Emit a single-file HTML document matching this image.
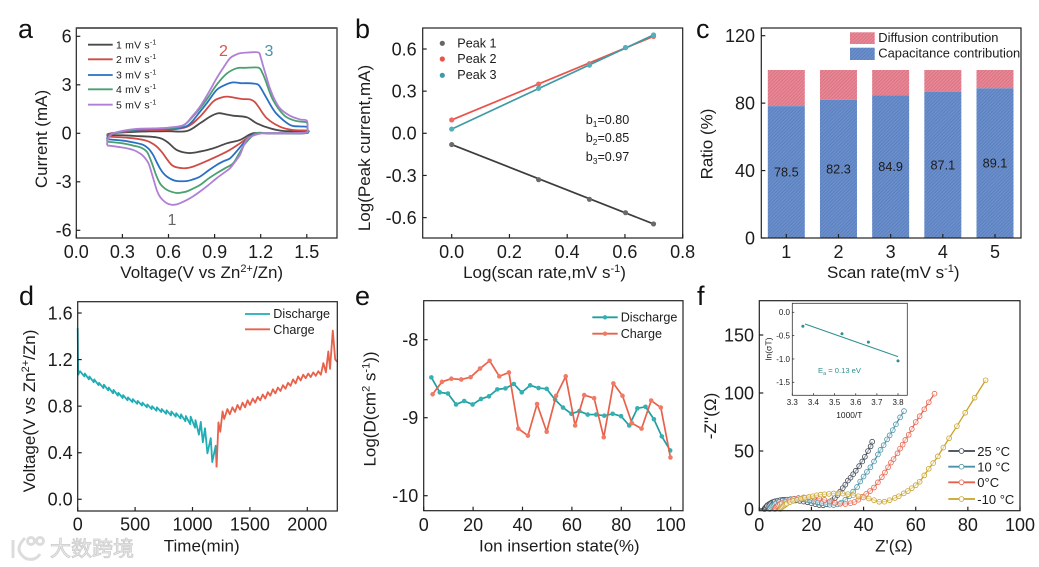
<!DOCTYPE html>
<html lang="en">
<head>
<meta charset="utf-8">
<title>Electrochemical characterization panels</title>
<style>
html,body{margin:0;padding:0;background:#fff;width:1039px;height:567px;overflow:hidden}
svg{display:block;filter:blur(.3px)}
text{font-family:"Liberation Sans","Noto Sans CJK SC",sans-serif;fill:#1c1c1c}
.tick{font-size:18px}
.title{font-size:17px}
.letter{font-size:27px;fill:#111}
.leg{font-size:12.6px}
</style>
</head>
<body>
<svg id="fig" xmlns="http://www.w3.org/2000/svg" width="1039" height="567" viewBox="0 0 1039 567">
<defs>
<pattern id="hatch-blue" patternUnits="userSpaceOnUse" width="2.4" height="2.4" patternTransform="rotate(45)"><rect width="2.4" height="2.4" fill="#6c90cd"/><rect width="1" height="2.4" fill="#5a7fbd"/></pattern>
<pattern id="hatch-pink" patternUnits="userSpaceOnUse" width="2.4" height="2.4" patternTransform="rotate(45)"><rect width="2.4" height="2.4" fill="#ea8898"/><rect width="1" height="2.4" fill="#d87482"/></pattern>
</defs>

<!-- Panel letters -->
<text class="letter" x="18" y="38">a</text>
<text class="letter" x="355" y="38">b</text>
<text class="letter" x="696" y="38">c</text>
<text class="letter" x="19" y="305">d</text>
<text class="letter" x="355" y="305">e</text>
<text class="letter" x="697" y="305">f</text>

<!-- Axis titles -->
<text class="title" x="201.7" y="278" text-anchor="middle">Voltage(V vs Zn<tspan dy="-6" font-size="11">2+</tspan><tspan dy="6">/Zn)</tspan></text>
<text class="title" x="47" y="139" text-anchor="middle" transform="rotate(-90 47 139)">Current (mA)</text>
<text class="title" x="544.5" y="278" text-anchor="middle">Log(scan rate,mV s<tspan dy="-6" font-size="11">-1</tspan><tspan dy="6">)</tspan></text>
<text class="title" x="370" y="148" text-anchor="middle" transform="rotate(-90 370 148)">Log(Peak current,mA)</text>
<text class="title" x="893.3" y="278" text-anchor="middle">Scan rate(mV s<tspan dy="-6" font-size="11">-1</tspan><tspan dy="6">)</tspan></text>
<text class="title" x="712.7" y="144" text-anchor="middle" transform="rotate(-90 712.7 144)">Ratio (%)</text>
<text class="title" x="201.7" y="551.7" text-anchor="middle">Time(min)</text>
<text class="title" x="35" y="411" text-anchor="middle" transform="rotate(-90 35 411)">Voltage(V vs Zn<tspan dy="-6" font-size="11">2+</tspan><tspan dy="6">/Zn)</tspan></text>
<text class="title" x="559.3" y="551.7" text-anchor="middle">Ion insertion state(%)</text>
<text class="title" x="375.7" y="409" text-anchor="middle" transform="rotate(-90 375.7 409)">Log(D(cm<tspan dy="-6" font-size="11">2</tspan><tspan dy="6"> s</tspan><tspan dy="-6" font-size="11">-1</tspan><tspan dy="6">))</tspan></text>
<text class="title" x="894" y="551.7" text-anchor="middle">Z'(Ω)</text>
<text class="title" x="716" y="416" text-anchor="middle" transform="rotate(-90 716 416)">-Z''(Ω)</text>

<!-- Panel a annotations -->
<text x="219" y="56" font-size="16" style="fill:#d9534f">2</text>
<text x="264.5" y="56" font-size="16" style="fill:#4a93a6">3</text>
<text x="167.5" y="225" font-size="16" style="fill:#666">1</text>

<!-- Panel b annotations -->
<text x="585.7" y="124" font-size="12.6">b<tspan dy="3" font-size="8.5">1</tspan><tspan dy="-3">=0.80</tspan></text>
<text x="585.7" y="142" font-size="12.6">b<tspan dy="3" font-size="8.5">2</tspan><tspan dy="-3">=0.85</tspan></text>
<text x="585.7" y="161" font-size="12.6">b<tspan dy="3" font-size="8.5">3</tspan><tspan dy="-3">=0.97</tspan></text>

<!-- Inset labels -->
<text x="849.3" y="418" text-anchor="middle" font-size="8.4">1000/T</text>
<text x="771.7" y="349" text-anchor="middle" font-size="8.6" transform="rotate(-90 771.7 349)">ln(σT)</text>
<text x="818" y="373" font-size="7.6" style="fill:#2f8f8f">E<tspan dy="2" font-size="5.5">a</tspan><tspan dy="-2"> = 0.13 eV</tspan></text>

<!-- Watermark -->
<g>
<g fill="none" stroke="#dcdcdc" stroke-width="3">
<path d="M13 540 V558 M25 538 C17 546 17 552 25 558 C31 561 37 559 40 554"/>
<circle cx="31" cy="541" r="3.5"/><circle cx="40" cy="541" r="3.5"/>
</g>
<text x="50" y="556" font-size="21" style="fill:#ececec;stroke:#cccccc;stroke-width:.8;font-family:'Noto Sans CJK SC',sans-serif">大数跨境</text>
</g>

<g id="plots"></g>

<!-- Legends -->
<g>
<line x1="88" y1="44.7" x2="112.7" y2="44.7" stroke="#4a4a4a" stroke-width="1.8"/>
<line x1="88" y1="59.3" x2="112.7" y2="59.3" stroke="#cf4b45" stroke-width="1.8"/>
<line x1="88" y1="75" x2="112.7" y2="75" stroke="#2a6fc4" stroke-width="1.8"/>
<line x1="88" y1="89.3" x2="112.7" y2="89.3" stroke="#4aa070" stroke-width="1.8"/>
<line x1="88" y1="104.7" x2="112.7" y2="104.7" stroke="#b07fd6" stroke-width="1.8"/>
<text x="116" y="48.5" font-size="10.5" letter-spacing=".2">1 mV s<tspan dy="-4" font-size="7">-1</tspan></text>
<text x="116" y="63" font-size="10.5" letter-spacing=".2">2 mV s<tspan dy="-4" font-size="7">-1</tspan></text>
<text x="116" y="78.5" font-size="10.5" letter-spacing=".2">3 mV s<tspan dy="-4" font-size="7">-1</tspan></text>
<text x="116" y="93" font-size="10.5" letter-spacing=".2">4 mV s<tspan dy="-4" font-size="7">-1</tspan></text>
<text x="116" y="108.5" font-size="10.5" letter-spacing=".2">5 mV s<tspan dy="-4" font-size="7">-1</tspan></text>
</g>
<g>
<circle cx="442.3" cy="43.3" r="2.6" fill="#666"/>
<circle cx="442.3" cy="59" r="2.6" fill="#e8534a"/>
<circle cx="442.3" cy="75.3" r="2.6" fill="#3f9aa8"/>
<text class="leg" x="457.3" y="47.5">Peak 1</text>
<text class="leg" x="457.3" y="63">Peak 2</text>
<text class="leg" x="457.3" y="79">Peak 3</text>
</g>
<g>
<rect x="850" y="32.3" width="24.7" height="11.7" fill="url(#hatch-pink)"/>
<rect x="850" y="47.7" width="24.7" height="12.3" fill="url(#hatch-blue)"/>
<text x="878.3" y="42" font-size="12.9">Diffusion contribution</text>
<text x="878.3" y="57.5" font-size="12.9">Capacitance contribution</text>
</g>
<g>
<line x1="245" y1="314" x2="270" y2="314" stroke="#20adb5" stroke-width="1.8"/>
<line x1="245" y1="329.3" x2="270" y2="329.3" stroke="#e8614a" stroke-width="1.8"/>
<text class="leg" x="273.3" y="318">Discharge</text>
<text class="leg" x="273.3" y="334">Charge</text>
</g>
<g>
<line x1="592.3" y1="317.3" x2="617.7" y2="317.3" stroke="#1f9ea3" stroke-width="1.8"/>
<circle cx="605" cy="317.3" r="2.2" fill="#35b0b0"/>
<line x1="592.3" y1="333.7" x2="617.7" y2="333.7" stroke="#e8614a" stroke-width="1.8"/>
<circle cx="605" cy="333.7" r="2.2" fill="#f07a65"/>
<text class="leg" x="620.7" y="321.5">Discharge</text>
<text class="leg" x="620.7" y="338">Charge</text>
</g>
<g>
<line x1="948.3" y1="451" x2="975" y2="451" stroke="#3c4650" stroke-width="1.8"/>
<circle cx="961.5" cy="451" r="2.4" fill="#fff" stroke="#3c4650" stroke-width=".8"/>
<line x1="948.3" y1="466.7" x2="975" y2="466.7" stroke="#4a93a6" stroke-width="1.8"/>
<circle cx="961.5" cy="466.7" r="2.4" fill="#fff" stroke="#4a93a6" stroke-width=".8"/>
<line x1="948.3" y1="482.3" x2="975" y2="482.3" stroke="#e8614a" stroke-width="1.8"/>
<circle cx="961.5" cy="482.3" r="2.4" fill="#fff" stroke="#e8614a" stroke-width=".8"/>
<line x1="948.3" y1="499" x2="975" y2="499" stroke="#c9a227" stroke-width="1.8"/>
<circle cx="961.5" cy="499" r="2.4" fill="#fff" stroke="#c9a227" stroke-width=".8"/>
<text x="977.3" y="456" font-size="13">25 °C</text>
<text x="977.3" y="471.5" font-size="13">10 °C</text>
<text x="977.3" y="487" font-size="13">0°C</text>
<text x="977.3" y="504" font-size="13">-10 °C</text>
</g>
</svg>

<script>
// ---------- Panel a: CV loops ----------
const aXTicks=[0,0.3,0.6,0.9,1.2,1.5];
const aYTicks=[-6,-3,0,3,6];
const cv1V=[.2,.205,.23,.3,.4,.5,.6,.72,.805,.87,.924,.97,1.02,1.11,1.174,1.26,1.35,1.5,1.505,1.5,1.4,1.25,1.15,1.065,.98,.89,.805,.73,.653,.59,.523,.37,.3,.2];
const cv1I=[-.1,-.05,0,.05,.1,.12,.13,.14,.62,1.03,1.24,1.18,1.09,.99,.62,.31,.14,.14,.1,.02,0,0,0,-.41,-.62,-.93,-1.13,-1.22,-1.03,-.52,-.25,-.16,-.12,-.1];
const cv2V=[.2,.205,.23,.3,.4,.5,.6,.72,.805,.89,.94,.98,1.03,1.08,1.13,1.16,1.185,1.24,1.325,1.41,1.5,1.505,1.5,1.4,1.25,1.17,1.12,1.065,.98,.85,.76,.696,.63,.59,.56,.523,.48,.436,.37,.3,.2];
const cv2I=[-.2,-.1,0,.08,.18,.2,.22,.4,1.03,1.96,2.2,2.27,2.2,2.12,2.1,1.95,1.65,.93,.41,.2,.17,.1,.01,0,0,0,-.25,-.62,-1.13,-1.71,-2.06,-2.16,-2.02,-1.6,-1.2,-.82,-.55,-.41,-.31,-.25,-.2];
const cv3V=[.2,.205,.23,.3,.4,.5,.6,.72,.805,.86,.913,.97,1.02,1.07,1.11,1.15,1.185,1.21,1.24,1.3,1.39,1.45,1.5,1.505,1.5,1.4,1.25,1.17,1.13,1.087,1.04,1,.96,.913,.86,.805,.76,.72,.653,.62,.59,.565,.544,.52,.5,.47,.436,.37,.3,.2];
const cv3I=[-.37,-.2,-.03,.1,.22,.25,.28,.45,1.34,2,2.68,3,3.15,3.1,3.1,3.08,3,2.65,2.15,1.24,.52,.43,.4,.2,.02,0,0,0,-.2,-.62,-1.15,-1.55,-1.72,-1.96,-2.3,-2.68,-2.85,-2.95,-2.95,-2.85,-2.68,-2.45,-2.16,-1.72,-1.34,-.95,-.72,-.56,-.45,-.37];
const cv4V=[.2,.205,.23,.3,.4,.5,.6,.7,.805,.86,.913,.98,1.043,1.1,1.185,1.21,1.23,1.28,1.35,1.41,1.46,1.5,1.505,1.5,1.4,1.25,1.17,1.1,1.06,1.02,.97,.913,.86,.805,.76,.72,.68,.653,.62,.59,.565,.544,.52,.5,.48,.458,.42,.37,.3,.2];
const cv4I=[-.52,-.3,-.05,.13,.25,.28,.32,.5,1.55,2.25,3,3.7,4.02,4.05,4.06,3.75,3.3,2.06,1.13,.82,.72,.66,.25,.03,0,0,0,-.62,-1.25,-1.86,-2.15,-2.47,-2.8,-3.2,-3.42,-3.59,-3.67,-3.69,-3.62,-3.5,-3.32,-3.09,-2.6,-2.06,-1.55,-1.13,-.88,-.76,-.62,-.52];
const cv5V=[.2,.205,.23,.3,.4,.5,.6,.696,.75,.805,.86,.913,.96,1,1.035,1.065,1.12,1.185,1.2,1.217,1.24,1.26,1.29,1.325,1.37,1.41,1.46,1.5,1.505,1.5,1.45,1.35,1.26,1.195,1.12,1.09,1.065,1.03,1,.96,.913,.86,.805,.76,.72,.68,.653,.62,.59,.565,.544,.525,.51,.49,.47,.44,.414,.37,.3,.2];
const cv5I=[-.75,-.4,-.05,.15,.28,.3,.35,.5,1,1.65,2.5,3.4,4.1,4.64,4.85,4.95,5,5,4.7,4.13,3.4,2.78,2.1,1.55,1.2,1,.85,.78,.3,.05,.02,0,0,-.02,-.3,-.75,-1.34,-1.8,-2.16,-2.45,-2.78,-3.2,-3.6,-3.9,-4.12,-4.3,-4.4,-4.42,-4.33,-4.15,-3.92,-3.55,-3.09,-2.45,-1.86,-1.45,-1.24,-1.03,-.88,-.75];

// ---------- Panel b: peak current fits ----------
const bXTicks=[0,0.2,0.4,0.6,0.8];
const bYTicks=[-0.6,-0.3,0,0.3,0.6];
const logScanRate=[0,0.301,0.477,0.602,0.699];
const peak1=[-0.08,-0.33,-0.47,-0.565,-0.645];
const peak2=[0.095,0.35,0.495,0.61,0.69];
const peak3=[0.03,0.32,0.485,0.61,0.70];

// ---------- Panel c: contribution bars ----------
const cYTicks=[0,40,80,120];
const scanRates=[1,2,3,4,5];
const capacitance=[78.5,82.3,84.9,87.1,89.1];
const barTotal=[100,100,100,100,100];

// ---------- Panel d: GITT profile ----------
const dXTicks=[0,500,1000,1500,2000];
const dYTicks=[0,0.4,0.8,1.2,1.6];
const dischargeTime=[0,4,20,58,62,98,102,140,144,182,186,224,228,266,270,308,312,350,354,392,396,434,438,476,480,518,522,560,564,602,606,644,648,686,690,728,732,770,774,812,816,854,858,896,900,938,942,980,984,1022,1026,1056,1072,1090,1109,1130,1159,1172,1202,1210];
const dischargeVolt=[1.47,1.07,1.10,1.055,1.08,1.03,1.055,1.005,1.03,.98,1,.955,.985,.935,.96,.91,.94,.89,.915,.87,.895,.85,.875,.835,.86,.82,.845,.805,.83,.79,.815,.775,.80,.76,.79,.75,.775,.735,.765,.72,.755,.71,.74,.695,.73,.67,.715,.645,.71,.615,.68,.555,.665,.49,.61,.395,.525,.32,.46,.275];
const chargeTime=[1210,1226,1242,1262,1276,1304,1325,1348,1370,1392,1414,1436,1458,1480,1500,1525,1546,1568,1590,1612,1634,1656,1678,1700,1722,1744,1766,1788,1810,1832,1854,1876,1898,1920,1942,1964,1986,2008,2030,2052,2074,2096,2118,2140,2162,2183,2198,2222,2243,2262];
const chargeVolt=[.275,.66,.58,.755,.69,.775,.73,.79,.75,.81,.77,.83,.79,.85,.81,.865,.83,.88,.85,.90,.865,.92,.89,.945,.91,.96,.93,.98,.95,1,.975,1.03,.995,1.055,1.02,1.07,1.04,1.08,1.05,1.09,1.06,1.10,1.07,1.17,1.09,1.27,1.12,1.45,1.20,1.18];

// ---------- Panel e: diffusion coefficient ----------
const eXTicks=[0,20,40,60,80,100];
const eYTicks=[-10,-9,-8];
const eDischargeX=[3.1,6.5,9.8,13.1,16.4,19.8,23.2,26.4,29.8,33.1,36.5,39.7,43.1,46.5,49.8,53.2,56.4,59.8,63,66.4,69.8,73.1,76.5,79.9,83.2,86.5,89.8,93.2,96.4,99.8];
const eDischargeY=[-8.483,-8.675,-8.69,-8.83,-8.786,-8.83,-8.76,-8.726,-8.637,-8.624,-8.568,-8.675,-8.585,-8.62,-8.63,-8.77,-8.87,-8.95,-8.915,-8.96,-8.96,-8.974,-8.95,-8.98,-9.1,-8.88,-8.86,-9.02,-9.24,-9.42];
const eChargeX=[3.6,7.4,11.2,15.2,19,22.8,26.7,30.6,34.5,38.3,42.2,45.9,49.8,53.6,57.5,61.3,65,69,72.9,76.8,80.5,84.3,88.2,92.1,96,99.9];
const eChargeY=[-8.7,-8.54,-8.5,-8.51,-8.48,-8.37,-8.27,-8.47,-8.42,-9.14,-9.23,-8.825,-9.18,-8.72,-8.47,-9.1,-8.71,-8.75,-9.25,-8.56,-8.72,-9.07,-9.14,-8.78,-8.87,-9.51];

// ---------- Panel f: Nyquist plots ----------
const fXTicks=[0,20,40,60,80,100];
const fYTicks=[0,50,100,150];
const z25Re=[2,2.2,2.5,2.8,3,3.5,4,4.5,5,5.5,6,7,8,9,10,11,12.5,14,15.5,17,18.5,20,21.5,23,24.5,26,27,28,29,30,31,32,33,34,35,36,37,38.3,39.5,40.5,41.7,42.7,43.3];
const z25Im=[0,.8,1.5,2.3,3,3.8,4.5,5.2,5.8,6.2,6.6,7.2,7.6,7.9,8,8,7.8,7.4,7,6.4,5.8,5,4.2,3.4,3.2,4,5.5,7.5,9.5,12,15,18,21,24.5,27,30,33,37,41,45,50,54,58];
const z10Re=[4,4.2,4.6,5,5.5,6,6.5,7.5,9,10.5,12,13.5,15,16.5,18,19.5,21,22.5,24,25.5,27,28.5,30,31.5,33,34.5,36,37.5,38.7,40,41.3,42.6,44,45.5,46.5,47.7,49,50,51.2,52.4,54,55.5];
const z10Im=[0,1,2,3,3.8,4.4,5,6,7.2,8,8.6,8.9,8.9,8.6,8.1,7.4,6.6,5.8,5,4.2,3.6,3.4,4,5.5,8,11,15,19,23.7,28,32,36,41,47,51,55,60,63.5,68,73,79,84.4];
const z0Re=[6,6.2,6.5,6.9,7.3,7.9,8.5,10,11.5,13,15,17,19,21,23,25,27,29,31,33,35,36.5,38,39.5,41,42.5,44,45.5,47,48.2,49.4,50.5,51.5,53,54,55,56,57.3,58.5,60,61.5,63.3,65,67.2];
const z0Im=[0,1,2,2.8,3.6,4.3,5,6.5,7.7,8.6,9.5,10,10,9.7,8.9,7.8,6.5,5.3,4.5,4.3,5,6,8,10.5,13,15.5,18.5,23,27.5,31.5,36,40,43,48,52,55.5,59.5,64,69,75,80,86,92,99.4];
const zm10Re=[8,8.3,8.6,9,9.5,10,10.5,11.8,13,14.5,16,17.5,19,20.5,22,23.5,25,26.7,28.5,30.3,32,34,36,38,40,42,44,46,48,50,52,53.5,55.4,57,58.5,60,61.5,63.3,65,66.7,68.5,70.6,72.8,75.8,79,82.6,86.8];
const zm10Im=[0,.8,1.5,2.3,3,3.8,4.5,6,7,8,8.9,9.6,10.4,11,11.8,12.3,12.7,13,13.4,13.5,13.3,12.8,12,11,10,9,7.6,6.2,6.3,7.6,9.5,11,13.5,15.5,18,20.5,23.5,29,34.7,39.6,45.4,53,61,71.4,83,96,111];

// ---------- Inset: Arrhenius ----------
const insetXTicks=[3.3,3.4,3.5,3.6,3.7,3.8];
const insetYTicks=[-1.5,-1,-0.5,0];
const inverseTemp=[3.35,3.535,3.66,3.80];
const lnSigmaT=[-0.30,-0.46,-0.64,-1.04];
const fitInverseTemp=[3.36,3.80];
const fitLnSigmaT=[-0.25,-0.95];

const NS='http://www.w3.org/2000/svg';
const root=document.getElementById('plots');

function scale(d0,d1,r0,r1){return v=>r0+(v-d0)*(r1-r0)/(d1-d0);}

function addLine(x1,y1,x2,y2,stroke,w,label){
  const el=document.createElementNS(NS,'line');
  el.setAttribute('x1',x1);el.setAttribute('y1',y1);el.setAttribute('x2',x2);el.setAttribute('y2',y2);
  el.setAttribute('stroke',stroke);el.setAttribute('stroke-width',w);
  
  
  root.appendChild(el);
  return el;
}
function addText(x,y,str,anchor,size,label,fill){
  const el=document.createElementNS(NS,'text');
  el.setAttribute('x',x);el.setAttribute('y',y);el.setAttribute('text-anchor',anchor);el.setAttribute('font-size',size);
  if(fill)el.style.fill=fill;
  el.textContent=str;
  
  
  root.appendChild(el);
  return el;
}
function addPath(d,stroke,w,label){
  const el=document.createElementNS(NS,'path');
  el.setAttribute('d',d);el.setAttribute('fill','none');el.setAttribute('stroke',stroke);el.setAttribute('stroke-width',w);
  el.setAttribute('stroke-linejoin','round');
  
  
  root.appendChild(el);
  return el;
}
function addDot(cx,cy,r,fill,stroke,w,label){
  const el=document.createElementNS(NS,'circle');
  el.setAttribute('cx',cx);el.setAttribute('cy',cy);el.setAttribute('r',r);el.setAttribute('fill',fill);
  if(stroke){el.setAttribute('stroke',stroke);el.setAttribute('stroke-width',w);}
  
  
  root.appendChild(el);
  return el;
}
function addRect(x,y,w,h,fill,label){
  const el=document.createElementNS(NS,'rect');
  el.setAttribute('x',x);el.setAttribute('y',y);el.setAttribute('width',w);el.setAttribute('height',h);el.setAttribute('fill',fill);
  
  
  root.appendChild(el);
  return el;
}
function polyline(xs,ys,X,Y){
  return xs.map((v,i)=>(i?'L':'M')+X(v).toFixed(2)+' '+Y(ys[i]).toFixed(2)).join(' ');
}
function smooth(xs,ys,X,Y){
  const p=xs.map((v,i)=>[X(v),Y(ys[i])]);
  let d='M'+p[0][0].toFixed(2)+' '+p[0][1].toFixed(2);
  for(let i=0;i<p.length-1;i++){
    const a=p[Math.max(i-1,0)],b=p[i],c=p[i+1],e=p[Math.min(i+2,p.length-1)];
    d+=' C'+(b[0]+(c[0]-a[0])/6).toFixed(2)+' '+(b[1]+(c[1]-a[1])/6).toFixed(2)+' '+(c[0]-(e[0]-b[0])/6).toFixed(2)+' '+(c[1]-(e[1]-b[1])/6).toFixed(2)+' '+c[0].toFixed(2)+' '+c[1].toFixed(2);
  }
  return d;
}
function axes(prefix,box,X,Y,xt,yt,xfmt,yfmt,o){
  o=o||{};
  const size=o.size||18,len=o.len||4,xb=o.xBase,yr=o.yRight,col=o.col||'#222',w=o.w||1.2,dy=o.dy||6.3;
  const frame=document.createElementNS(NS,'rect');
  frame.setAttribute('x',box.l);frame.setAttribute('y',box.t);frame.setAttribute('width',box.r-box.l);frame.setAttribute('height',box.b-box.t);
  frame.setAttribute('fill','none');frame.setAttribute('stroke',col);frame.setAttribute('stroke-width',w);
  
  
  root.appendChild(frame);
  xt.forEach(v=>{
    addLine(X(v),box.b,X(v),box.b-len,col,w,prefix+'-x-tick');
    addText(X(v),xb,xfmt(v),'middle',size,prefix+'-x-tick-label');
  });
  yt.forEach(v=>{
    addLine(box.l,Y(v),box.l+len,Y(v),col,w,prefix+'-y-tick');
    addText(yr,Y(v)+dy,yfmt(v),'end',size,prefix+'-y-tick-label');
  });
}
const f1=v=>v.toFixed(1);
const f0=v=>String(v);

// Panel a
(function(){
  const X=scale(0,1.5,76.3,306.8),Y=scale(0,6,133.3,36.3);
  const series=[[cv1V,cv1I,'#4a4a4a','cv-curve-1mv'],[cv2V,cv2I,'#cf4b45','cv-curve-2mv'],[cv3V,cv3I,'#2a6fc4','cv-curve-3mv'],[cv4V,cv4I,'#4aa070','cv-curve-4mv'],[cv5V,cv5I,'#b07fd6','cv-curve-5mv']];
  series.forEach(s=>addPath(smooth(s[0],s[1],X,Y),s[2],1.8,s[3]));
  axes('a',{l:76.3,r:337,t:28,b:238},X,Y,aXTicks,aYTicks,f1,f0,{xBase:258,yRight:71.7});
  addLine(76.3,28,337,28,'#555',1.8,'a-top-border');
})();

// Panel b
(function(){
  const X=scale(0,0.8,451.7,682.7),Y=scale(0,0.6,133.3,49);
  const series=[[peak1,'#3d3d3d','#6a6a6a','peak-1'],[peak2,'#e8534a','#ee6a60','peak-2'],[peak3,'#3f9aa8','#55aebb','peak-3']];
  series.forEach(s=>{
    const n=s[0].length-1;
    addPath(polyline([logScanRate[0],logScanRate[n]],[s[0][0],s[0][n]],X,Y),s[1],1.7,s[3]+'-fit-line');
    s[0].forEach((v,i)=>addDot(X(logScanRate[i]),Y(v),2.6,s[2],null,0,s[3]+'-point'));
  });
  axes('b',{l:422.7,r:682.7,t:28,b:238},X,Y,bXTicks,bYTicks,f1,f1,{xBase:258,yRight:416.7});
})();

// Panel c
(function(){
  const X=scale(1,5,786.3,995),Y=scale(0,100,238,70);
  const bw=37;
  scanRates.forEach((v,i)=>{
    const top=Y(barTotal[i]),mid=Y(capacitance[i]);
    addRect(X(v)-bw/2,top,bw,mid-top,'url(#hatch-pink)','diffusion-bar-'+v);
    addRect(X(v)-bw/2,mid,bw,238-mid,'url(#hatch-blue)','capacitance-bar-'+v);
    addText(X(v),Y(capacitance[i]/2)+4.5,capacitance[i].toFixed(1),'middle',12.7,'capacitance-value-'+v);
  });
  const Yt=scale(0,120,238,35.7);
  axes('c',{l:761.3,r:1021,t:28,b:238},X,Yt,scanRates,cYTicks,f0,f0,{xBase:258,yRight:755});
})();

// Panel d
(function(){
  const X=scale(0,2000,77.7,307.3),Y=scale(0,1.6,499.3,313);
  addPath(polyline(dischargeTime,dischargeVolt,X,Y),'#20adb5',1.8,'discharge-curve');
  addPath(polyline(chargeTime,chargeVolt,X,Y),'#e8614a',1.8,'charge-curve');
  axes('d',{l:77.7,r:337.3,t:301.7,b:511},X,Y,dXTicks,dYTicks,f0,f1,{xBase:530.7,yRight:72.7});
})();

// Panel e
(function(){
  const X=scale(0,100,423.7,670.7),Y=scale(-8,-10,339.7,495.7);
  addPath(polyline(eDischargeX,eDischargeY,X,Y),'#1f9ea3',1.7,'e-discharge-line');
  eDischargeX.forEach((v,i)=>addDot(X(v),Y(eDischargeY[i]),2.3,'#35b0b0',null,0,'e-discharge-point'));
  addPath(polyline(eChargeX,eChargeY,X,Y),'#e8614a',1.7,'e-charge-line');
  eChargeX.forEach((v,i)=>addDot(X(v),Y(eChargeY[i]),2.3,'#f07a65',null,0,'e-charge-point'));
  axes('e',{l:423.7,r:683,t:300.7,b:510.7},X,Y,eXTicks,eYTicks,f0,f0,{xBase:531,yRight:418.3});
})();

// Panel f
(function(){
  const X=scale(0,100,759.3,1020),Y=scale(0,150,509,335);
  const series=[[z25Re,z25Im,'#3c4650','nyquist-25c'],[z10Re,z10Im,'#4a93a6','nyquist-10c'],[z0Re,z0Im,'#e8614a','nyquist-0c'],[zm10Re,zm10Im,'#c9a227','nyquist-minus10c']];
  series.forEach(s=>{
    addPath(polyline(s[0],s[1],X,Y),s[2],1.3,s[3]+'-line');
    s[0].forEach((v,i)=>addDot(X(v),Y(s[1][i]),2.4,'rgba(255,255,255,.55)',s[2],.8,s[3]+'-point'));
  });
  axes('f',{l:759.3,r:1020,t:300.7,b:510.7},X,Y,fXTicks,fYTicks,f0,f0,{xBase:531,yRight:754});
  // inset
  const IX=scale(3.3,3.8,792.3,898),IY=scale(0,-1.5,312.3,382.3);
  addPath(polyline(fitInverseTemp,fitLnSigmaT,IX,IY),'#2f8f8f',1,'inset-fit-line');
  inverseTemp.forEach((v,i)=>addDot(IX(v),IY(lnSigmaT[i]),1.5,'#2f8f8f',null,0,'inset-point'));
  axes('inset',{l:792.3,r:907.3,t:303.3,b:395.3},IX,IY,insetXTicks,insetYTicks,f1,f1,{xBase:405,yRight:790,size:8,len:2,w:.8,col:'#333',dy:2.8});
})();
</script>
</body>
</html>
